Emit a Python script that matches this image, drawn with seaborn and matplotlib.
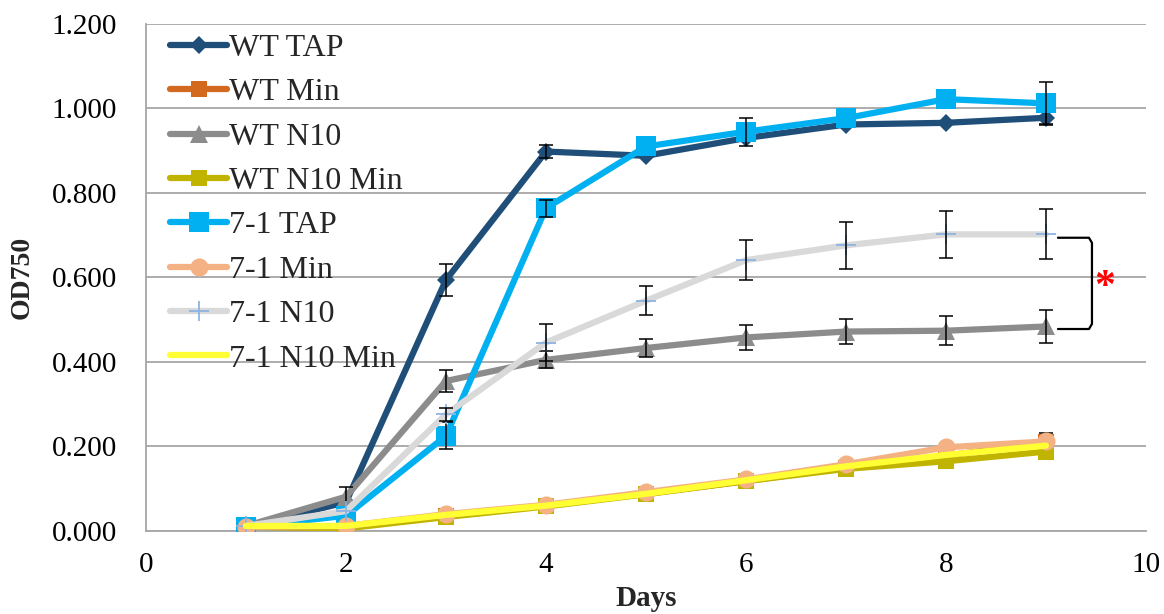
import numpy as np
import pandas as pd
import matplotlib
matplotlib.use("Agg")
import matplotlib.pyplot as plt
from matplotlib.ticker import FormatStrFormatter, MultipleLocator
import seaborn as sns

# growth data (OD750 per day)
days = [1, 2, 3, 4, 5, 6, 7, 8, 9]
nan = np.nan

wt_tap = [0.010, 0.068, 0.594, 0.898, 0.888, 0.930, 0.962, 0.966, 0.978]
wt_tap_err = [nan, nan, 0.037, 0.015, nan, nan, nan, nan, 0.015]

wt_min = [0.010, 0.008, 0.035, 0.060, 0.088, 0.118, 0.150, 0.178, 0.210]
wt_min_err = [nan, nan, nan, nan, nan, nan, nan, nan, 0.022]

wt_n10 = [0.012, 0.081, 0.355, 0.405, 0.433, 0.458, 0.472, 0.474, 0.484]
wt_n10_err = [nan, 0.024, 0.027, 0.020, 0.022, 0.030, 0.029, 0.034, 0.038]

wt_n10_min = [0.010, 0.006, 0.033, 0.058, 0.087, 0.118, 0.147, 0.165, 0.188]

m71_tap = [0.010, 0.036, 0.225, 0.764, 0.910, 0.945, 0.977, 1.022, 1.012]
m71_tap_err = [nan, nan, 0.032, 0.020, nan, 0.033, nan, nan, 0.050]

m71_min = [0.010, 0.012, 0.040, 0.062, 0.092, 0.122, 0.158, 0.198, 0.212]

m71_n10 = [0.012, 0.047, 0.276, 0.446, 0.545, 0.641, 0.676, 0.702, 0.702]
m71_n10_err = [nan, nan, 0.016, 0.043, 0.034, 0.048, 0.056, 0.055, 0.059]

m71_n10_min = [0.012, 0.012, 0.038, 0.060, 0.088, 0.120, 0.153, 0.180, 0.202]

df = pd.DataFrame({
    'Days': days,
    'WT TAP': wt_tap,
    'WT Min': wt_min,
    'WT N10': wt_n10,
    'WT N10 Min': wt_n10_min,
    '7-1 TAP': m71_tap,
    '7-1 Min': m71_min,
    '7-1 N10': m71_n10,
    '7-1 N10 Min': m71_n10_min,
})

errors = {
    'WT TAP': wt_tap_err,
    'WT Min': wt_min_err,
    'WT N10': wt_n10_err,
    '7-1 TAP': m71_tap_err,
    '7-1 N10': m71_n10_err,
}

# (line colour, marker, marker size, marker face colour)
styles = {
    'WT TAP': ('#1F4E79', 'D', 9, '#1F4E79'),
    'WT Min': ('#D2691E', 's', 12, '#D2691E'),
    'WT N10': ('#8C8C8C', '^', 13, '#8C8C8C'),
    'WT N10 Min': ('#C0B400', 's', 12, '#C0B400'),
    '7-1 TAP': ('#00B0F0', 's', 14, '#00B0F0'),
    '7-1 Min': ('#F4B183', 'o', 13, '#F4B183'),
    '7-1 N10': ('#D9D9D9', '+', 15, '#8DB4E2'),
    '7-1 N10 Min': ('#FFFF33', None, 0, '#FFFF33'),
}

sns.set_style('white')
plt.rcParams['font.family'] = ['Liberation Serif', 'DejaVu Serif']

fig, ax = plt.subplots(figsize=(11.64, 6.14), dpi=100)
fig.subplots_adjust(left=0.1254, right=0.9845, bottom=0.1352, top=0.961)

z = 3
for name, (col, mk, ms, mfc) in styles.items():
    sns.lineplot(data=df, x='Days', y=name, ax=ax, color=col, lw=4.5,
                 marker=mk, markersize=ms, markerfacecolor=mfc,
                 markeredgecolor=mfc, markeredgewidth=1.3 if mk == '+' else 0,
                 label=name, zorder=z)
    if name in errors:
        ax.errorbar(df['Days'], df[name], yerr=errors[name], fmt='none',
                    ecolor='black', elinewidth=1.1, capsize=5, capthick=1.1,
                    zorder=z + 0.5)
    z += 1

# significance bracket between 7-1 N10 and WT N10 on day 9
bx0, bx1 = 9.12, 9.46
by_top, by_bot = m71_n10[-1] - 0.008, wt_n10[-1] - 0.006
ax.plot([bx0, bx1 - 0.03, bx1, bx1, bx1 - 0.03, bx0],
        [by_top, by_top, by_top - 0.012, by_bot + 0.012, by_bot, by_bot],
        color='black', lw=1.6, zorder=20)
ax.text(bx1 + 0.13, (by_top + by_bot) / 2 - 0.01, '*', color='red',
        fontsize=30, fontweight='bold', ha='center', va='center')

ax.set_xlim(0, 10)
ax.set_ylim(0, 1.2)
ax.xaxis.set_major_locator(MultipleLocator(2))
ax.yaxis.set_major_locator(MultipleLocator(0.2))
ax.yaxis.set_major_formatter(FormatStrFormatter('%.3f'))
ax.grid(axis='y', color='#A6A6A6', lw=1.3)
ax.grid(axis='x', visible=False)
ax.set_axisbelow(True)

for s in ['top', 'right']:
    ax.spines[s].set_visible(False)
for s in ['left', 'bottom']:
    ax.spines[s].set_color('#A6A6A6')
    ax.spines[s].set_linewidth(1.3)

ax.tick_params(axis='both', direction='out', length=9, width=1.3,
               color='#A6A6A6', labelsize=21, labelcolor='black')
ax.tick_params(axis='y', pad=12)
ax.tick_params(axis='x', pad=6)

ax.set_xlabel('Days', fontsize=21, fontweight='bold', labelpad=5)
ax.set_ylabel('OD750', fontsize=20, fontweight='bold', labelpad=12)

ax.legend(loc='upper left', bbox_to_anchor=(0.024, 0.981), frameon=False,
          fontsize=23, handlelength=1.8, handletextpad=0.05,
          labelspacing=0.47, borderaxespad=0, borderpad=0)

plt.savefig('out.png', dpi=100)
